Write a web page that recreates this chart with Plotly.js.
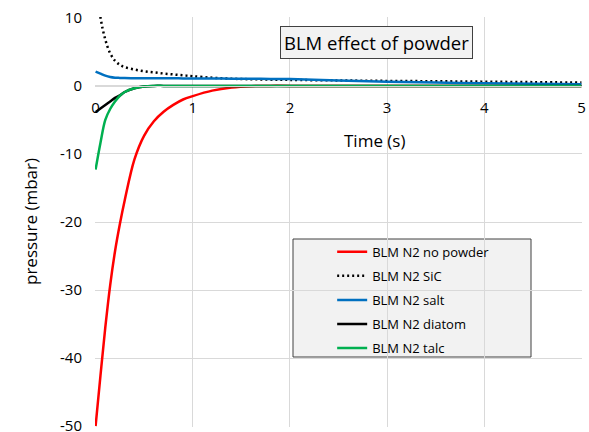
<!DOCTYPE html>
<html>
<head>
<meta charset="utf-8">
<script src="https://cdn.plot.ly/plotly-3.0.1.min.js"></script>
<style>html,body{margin:0;padding:0;background:#fff;}#chart{width:589px;height:432px;}</style>
</head>
<body>
<div id="chart"></div>
<script>
// Time (s)
const time = [0, 0.05, 0.1, 0.15, 0.2, 0.25, 0.3, 0.4, 0.5, 0.6, 0.7, 0.8, 0.9, 1.0, 1.2, 1.4, 1.6, 1.8, 2, 2.5, 3, 3.5, 4, 4.5, 5];
// pressure (mbar)
const noPowder = [-50, -42.6, -35.5, -29.3, -24.3, -20.3, -16.8, -10.8, -7.3, -5.2, -3.8, -2.8, -2.0, -1.5, -0.7, -0.25, -0.05, 0, 0, 0, 0, 0, 0, 0, 0];
const sic      = [16, 10.1, 6.8, 4.8, 3.7, 3.1, 2.75, 2.4, 2.15, 1.98, 1.82, 1.68, 1.55, 1.42, 1.2, 1.05, 0.98, 0.92, 0.88, 0.8, 0.73, 0.68, 0.62, 0.55, 0.48];
const salt     = [2.1, 1.8, 1.5, 1.3, 1.2, 1.17, 1.15, 1.13, 1.12, 1.12, 1.11, 1.11, 1.1, 1.1, 1.08, 1.06, 1.04, 1.02, 1.0, 0.8, 0.6, 0.5, 0.38, 0.3, 0.25];
const diatom   = [-3.85, -3.33, -2.81, -2.29, -1.77, -1.4, -0.9, -0.35, -0.08, 0, 0, 0, 0, 0, 0, 0, 0, 0, 0, 0, 0, 0, 0, 0, 0];
const talc     = [-12.3, -8.4, -5.0, -3.4, -2.3, -1.45, -0.9, -0.35, -0.08, 0, 0, 0, 0, 0, 0, 0, 0, 0, 0, 0, 0, 0, 0, 0, 0];
const seriesNames = ['BLM N2 no powder', 'BLM N2 SiC', 'BLM N2 salt', 'BLM N2 diatom', 'BLM N2 talc'];
const xTicks = [0, 1, 2, 3, 4, 5];
const yTicks = [-50, -40, -30, -20, -10, 0, 10];

const F = 'Open Sans, Noto Sans, sans-serif';
const mk = (y, i, color, dash) => ({
  x: time, y: y, name: seriesNames[i], type: 'scatter', mode: 'lines',
  line: {color: color, width: 2.5, dash: dash || 'solid', shape: 'spline', smoothing: 1},
  legendgroup: 'g' + i, hoverinfo: 'skip'
});
const data = [
  mk(noPowder, 0, '#ff0000'),
  mk(sic, 1, '#000000', '2px,3px'),
  mk(salt, 2, '#0070c0'),
  mk(diatom, 3, '#000000'),
  mk(talc, 4, '#00b050')
];

const layout = {
  width: 589, height: 432,
  margin: {l: 95, r: 7, t: 17, b: 5},
  paper_bgcolor: '#ffffff', plot_bgcolor: '#ffffff',
  font: {family: F, color: '#000000', size: 15},
  showlegend: true,
  hovermode: false,
  xaxis: {
    range: [-0.006, 5.006], tickvals: xTicks, ticktext: xTicks.map(String),
    anchor: 'free', position: 50.12 / 60.24,
    showgrid: true, gridcolor: '#d9d9d9', gridwidth: 1,
    zeroline: false, showline: true, linecolor: '#d9d9d9', linewidth: 1,
    ticks: '', ticklabelstandoff: 8, ticklabeloverflow: 'allow',
    tickfont: {family: F, size: 15, color: '#000'}, automargin: false
  },
  yaxis: {
    range: [-50.12, 10.12], tickvals: yTicks, ticktext: yTicks.map(String),
    domain: [0, 1],
    showgrid: true, gridcolor: '#d9d9d9', gridwidth: 1,
    zeroline: false, showline: false,
    ticks: '', ticklabelstandoff: 12, ticklabeloverflow: 'allow',
    tickfont: {family: F, size: 15, color: '#000'}, automargin: false
  },
  legend: {
    x: 0.487, y: 0.464, xanchor: 'left', yanchor: 'top',
    bgcolor: 'rgba(0,0,0,0)', borderwidth: 0,
    font: {family: F, size: 13, color: '#000'},
    traceorder: 'grouped', tracegroupgap: 4.2, itemwidth: 30
  },
  shapes: [
    {type: 'rect', xref: 'paper', yref: 'paper',
     x0: (293 - 95) / 487, x1: (531 - 95) / 487, y0: (427 - 357) / 410, y1: (427 - 239) / 410,
     fillcolor: '#f2f2f2', line: {color: '#404040', width: 1}, layer: 'below'}
  ],
  annotations: [
    {text: 'BLM effect of powder', xref: 'paper', yref: 'paper',
     x: (376 - 95) / 487, y: (427 - 42) / 410, xanchor: 'center', yanchor: 'middle',
     showarrow: false, font: {family: F, size: 18.5, color: '#000'},
     bgcolor: '#f2f2f2', bordercolor: '#404040', borderwidth: 1, borderpad: 3},
    {text: 'Time (s)', xref: 'paper', yref: 'paper',
     x: (374 - 95) / 487, y: (427 - 140) / 410, xanchor: 'center', yanchor: 'middle',
     showarrow: false, font: {family: F, size: 17, color: '#000'}},
    {text: 'pressure (mbar)', xref: 'paper', yref: 'paper', textangle: -90,
     x: (30 - 95) / 487, y: 0.5, xanchor: 'center', yanchor: 'middle',
     showarrow: false, font: {family: F, size: 17, color: '#000'}}
  ]
};
Plotly.newPlot('chart', data, layout, {staticPlot: true, displayModeBar: false});
</script>
</body>
</html>
